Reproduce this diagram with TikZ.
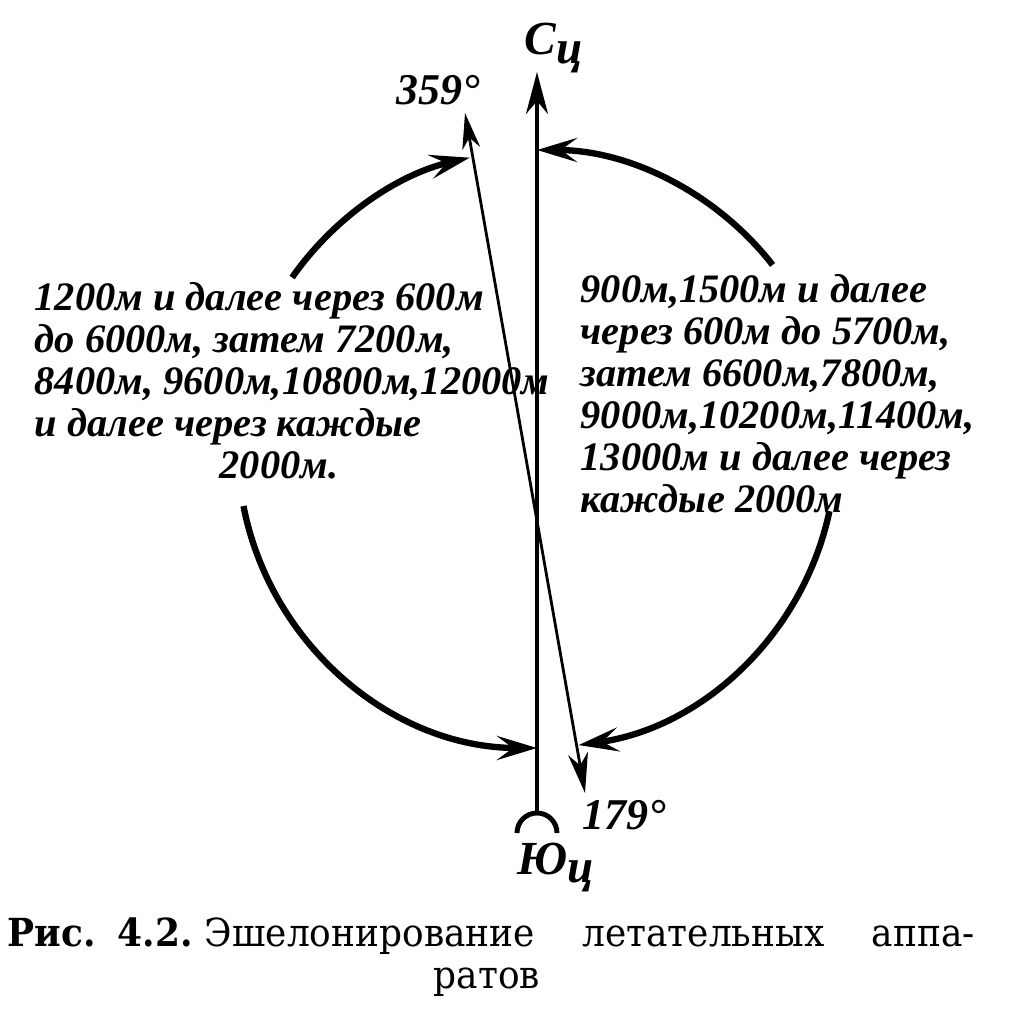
\documentclass[tikz,border=0pt]{standalone}
\usepackage{fontspec}
\setmainfont{Liberation Serif}
\newfontfamily\capfont{DejaVu Serif}[FakeStretch=0.93]
\usetikzlibrary{arrows.meta}

\begin{document}
\begin{tikzpicture}[
  ring/.style={line width=1.8pt, -{Stealth[length=4mm, width=2.4mm, inset=1.6mm]}},
  axis/.style={line width=1pt},
  lab/.style={font=\fontsize{11.5}{11.95}\selectfont\bfseries\itshape, align=left, inner sep=0pt},
  deg/.style={font=\fontsize{12.5}{14}\selectfont\bfseries\itshape, inner sep=0pt},
  pole/.style={font=\fontsize{13.5}{14}\selectfont\bfseries\itshape, inner sep=0pt, anchor=base west},
  capt/.style={font=\capfont\fontsize{11}{12}\selectfont, inner sep=0pt, anchor=base west}
]
\useasboundingbox (0,0) rectangle (10.2,10.24);
\coordinate (o) at (5.37,5.75);
% course arcs
\foreach \a/\b in {145/103, 38/90, -12/-82, 191/270} {
  \draw[ring] (o) ++(\a:2.99) arc[start angle=\a, end angle=\b, radius=2.99];
}
% meridian and track
\coordinate (yuc) at (5.37,2.11);
\coordinate (sc) at (5.37,9.52);
\coordinate (t359) at (4.65,9.11);
\coordinate (t179) at (5.85,2.31);
\draw[axis, -{Stealth[length=4.2mm, width=2.2mm, inset=1.3mm]}] (yuc) -- (sc);
\draw[line width=0.8pt, {Stealth[length=3.6mm, width=1.8mm, inset=1.1mm]}-{Stealth[length=4mm, width=2mm, inset=1.2mm]}] (t359) -- (t179);
\draw[line width=1.4pt] (yuc) ++(-0.2,-0.2) arc[start angle=180, end angle=0, radius=0.2];
% labels
\node[pole] (north) at (5.24,9.69) {С\raisebox{-0.4ex}{ц}};
\node[pole] (south) at (5.17,1.5) {Ю\raisebox{-0.4ex}{ц}};
\node[deg] (d359) at (4.38,9.34) {359°};
\node[deg] (d179) at (6.24,2.09) {179°};
\node[lab, anchor=north west] (west) at (0.34,7.42) {1200м и далее через 600м\\до 6000м, затем 7200м,\\8400м, 9600м,10800м,12000м\\и далее через каждые\\\hspace*{1.85cm}2000м.};
\node[lab, anchor=north west] (east) at (5.8,7.5) {900м,1500м и далее\\через 600м до 5700м,\\затем 6600м,7800м,\\9000м,10200м,11400м,\\13000м и далее через\\каждые 2000м};
% caption
\node[capt] (cap1) at (0.07,0.77) {\makebox[9.67cm][l]{\textbf{Рис.}\hspace{2.2mm}\textbf{4.2.}\hspace{1.2mm}Эшелонирование\hfill летательных\hfill аппа-}};
\node[capt, anchor=base] (cap2) at (4.87,0.35) {ратов};
\end{tikzpicture}
\end{document}
